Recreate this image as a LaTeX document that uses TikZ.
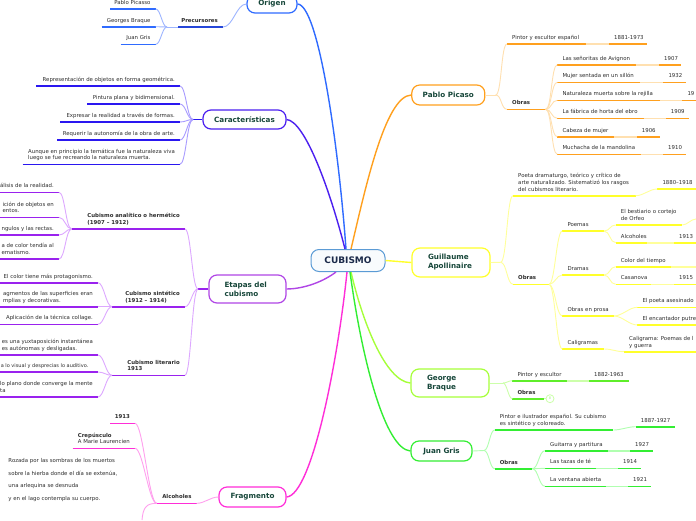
\documentclass[tikz,border=0pt]{standalone}
\usepackage{fontspec}
\setmainfont{DejaVu Sans}
\usetikzlibrary{calc}
\definecolor{cBlue}{HTML}{2F6BFF}
\definecolor{cBlueD}{HTML}{2546D8}
\definecolor{cBlueL}{HTML}{9DB5FF}
\definecolor{cInd}{HTML}{4B1FF0}
\definecolor{cIndD}{HTML}{2A17F0}
\definecolor{cIndL}{HTML}{A99CFF}
\definecolor{cVio}{HTML}{B046E6}
\definecolor{cVioD}{HTML}{9A22EE}
\definecolor{cVioL}{HTML}{DDA8FF}
\definecolor{cMag}{HTML}{FF2ED8}
\definecolor{cMagL}{HTML}{FF9FEE}
\definecolor{cOra}{HTML}{FFA01E}
\definecolor{cOraL}{HTML}{FFE0B0}
\definecolor{cYel}{HTML}{FFFF2A}
\definecolor{cYelL}{HTML}{FFFF9A}
\definecolor{cLim}{HTML}{A6FF3A}
\definecolor{cLimD}{HTML}{5FEE2A}
\definecolor{cLimL}{HTML}{CCFFAA}
\definecolor{cGrn}{HTML}{33EE33}
\definecolor{cGrnL}{HTML}{B0FFB0}
\definecolor{cCen}{HTML}{5B9BD5}
\definecolor{cTxt}{HTML}{2E2E2E}
\definecolor{cHead}{HTML}{17473A}
\definecolor{cNavy}{HTML}{1B2A4A}
\tikzset{
  leaf/.style={inner sep=0pt, font=\fontsize{5.4}{6.6}\selectfont, text=cTxt, align=left, text depth=1.2pt},
  uline/.style={line width=1.6pt},
  conn/.style={line width=0.9pt},
  mainc/.style={line width=1.4pt},
  mbox/.style={draw, line width=1.2pt, rounded corners=8pt, fill=white,
    font=\fontsize{7.2}{9}\selectfont\bfseries, text=cHead, inner sep=0pt, align=center},
}
\newcommand\leafR[6]{%
  \coordinate (#1-a) at (#2,#4);
  \coordinate (#1-b) at (#3,#4);
  \draw[uline,#5] (#1-a) -- (#1-b);
  \node[leaf,anchor=south west] (#1) at ([shift={(5,-3.2)}]#1-a) {#6};%
}
\newcommand\leafL[6]{%
  \coordinate (#1-a) at (#2,#4);
  \coordinate (#1-b) at (#3,#4);
  \draw[uline,#5] (#1-a) -- (#1-b);
  \node[leaf,anchor=south east] (#1) at ([shift={(-5,-3.2)}]#1-b) {#6};%
}
\newcommand\conR[4][6pt]{\draw[conn,#4] (#2) to[out=0,in=180,out distance=#1,in distance=#1] (#3);}
\newcommand\conL[4][6pt]{\draw[conn,#4] (#2) to[out=180,in=0,out distance=#1,in distance=#1] (#3);}
\begin{document}
\begin{tikzpicture}[x=1pt,y=-1pt]
\useasboundingbox (0,0) rectangle (696,520);
\clip (0,0) rectangle (696,520);
\fill[white] (0,0) rectangle (696,520);

% ---------- main nodes ----------
\node[mbox, draw=cCen, line width=1pt, fill=cCen!4, minimum width=74pt, minimum height=22pt,
  font=\fontsize{9}{10}\selectfont\bfseries, text=cNavy] (cub) at (348,260.5) {CUBISMO};
\node[mbox, draw=cBlue, minimum width=50pt, minimum height=18pt] (origen) at (272,4) {Origen};
\node[mbox, draw=cInd, minimum width=83pt, minimum height=19pt] (carac) at (244.5,119.5) {Características};
\node[mbox, draw=cVio, minimum width=77pt, minimum height=28pt, text width=46pt, align=left] (etapas) at (247.5,289) {Etapas del\\cubismo};
\node[mbox, draw=cMag, minimum width=67pt, minimum height=20pt] (frag) at (252.5,497) {Fragmento};
\node[mbox, draw=cOra, minimum width=73pt, minimum height=20pt] (pic) at (448.3,95) {Pablo Picaso};
\node[mbox, draw=cYel, minimum width=78pt, minimum height=29pt, text width=46pt, align=left] (apoll) at (451,262.5) {Guillaume\\Apollinaire};
\node[mbox, draw=cLim, minimum width=78pt, minimum height=28pt, text width=46pt, align=left] (braque) at (450,383) {George\\Braque};
\node[mbox, draw=cGrn, minimum width=61pt, minimum height=20pt] (gris) at (441.5,451) {Juan Gris};

% ---------- main connectors ----------
\draw[mainc,cBlue] ([xshift=-2pt]cub.north) .. controls (338,140) and (318,5) .. (origen.east);
\draw[mainc,cInd] ([xshift=-3pt]cub.north) .. controls (330,190) and (305,121) .. (carac.east);
\draw[mainc,cOra] ([xshift=3pt]cub.north) .. controls (365,190) and (385,96) .. (pic.west);
\draw[mainc,cVio] ([xshift=-12pt]cub.south) .. controls (320,284) and (300,289) .. (etapas.east);
\draw[mainc,cMag] ([xshift=-1pt]cub.south) .. controls (338,360) and (312,495) .. (frag.east);
\draw[mainc,cYel] (cub.east) -- (apoll.west);
\draw[mainc,cLim] ([xshift=3pt]cub.south) .. controls (362,320) and (385,381) .. (braque.west);
\draw[mainc,cGrn] ([xshift=2pt]cub.south) .. controls (362,360) and (385,449) .. (gris.west);

% ---------- Origen ----------
\leafL{prec}{178}{223}{27}{cBlueD}{\textbf{Precursores}}
\leafL{pp}{110}{155.7}{9}{cBlue}{Pablo Picasso}
\leafL{gb}{101.7}{155.7}{26.7}{cBlue}{Georges Braque}
\leafL{jg}{120.7}{155.7}{44.3}{cBlue}{Juan Gris}
\conL[10pt]{origen.west}{prec-b}{cBlueL}
\coordinate (prech) at (167,27);
\draw[conn,cBlueL] (prec-a) -- (prech);
\conL[5pt]{prech}{pp-b}{cBlueL}
\conL[5pt]{prech}{gb-b}{cBlueL}
\conL[5pt]{prech}{jg-b}{cBlueL}

% ---------- Caracteristicas ----------
\coordinate (carh) at (193,119.5);
\draw[uline,cIndD] (carac.west) -- (carh);
\leafL{c1}{36}{180}{86}{cIndD}{Representación de objetos en forma geométrica.}
\leafL{c2}{87}{180}{104}{cIndD}{Pintura plana y bidimensional.}
\leafL{c3}{60}{180}{122}{cIndD}{Expresar la realidad a través de formas.}
\leafL{c4}{57}{180}{140}{cIndD}{Requerir la autonomía de la obra de arte.}
\leafL{c5}{22.7}{180}{164.3}{cIndD}{Aunque en principio la temática fue la naturaleza viva\\luego se fue recreando la naturaleza muerta.}
\conL{carh}{c1-b}{cIndL}
\conL{carh}{c2-b}{cIndL}
\conL{carh}{c3-b}{cIndL}
\conL{carh}{c4-b}{cIndL}
\conL{carh}{c5-b}{cIndL}

% ---------- Etapas ----------
\coordinate (eth) at (198,289);
\draw[uline,cVioD] (etapas.west) -- (eth);
\leafL{ana}{71.7}{185}{229}{cVioD}{\textbf{Cubismo analítico o hermético}\\\textbf{(1907 – 1912)}}
\leafL{sin}{112}{185}{306.7}{cVioD}{\textbf{Cubismo sintético}\\\textbf{(1912 – 1914)}}
\leafL{lit}{112}{185}{375.3}{cVioD}{\textbf{Cubismo literario}\\\textbf{1913}}
\conL{eth}{ana-b}{cVioL}
\conL{eth}{sin-b}{cVioL}
\conL{eth}{lit-b}{cVioL}
% analitico
\leafL{a1}{0}{59}{192.3}{cVioD}{álisis de la realidad.}
\leafL{a2}{0}{59}{217.3}{cVioD}{ición de objetos en\\entos.}
\leafL{a3}{0}{59}{235}{cVioD}{ngulos y las rectas.}
\leafL{a4}{0}{59}{259}{cVioD}{a de color tendía al\\ematismo.}
\conL{ana-a}{a1-b}{cVioL}
\conL{ana-a}{a2-b}{cVioL}
\conL{ana-a}{a3-b}{cVioL}
\conL{ana-a}{a4-b}{cVioL}
% sintetico
\leafL{s1}{0}{98}{282.7}{cVioD}{El color tiene más protagonismo.}
\leafL{s2}{0}{98}{306.7}{cVioD}{agmentos de las superficies eran\\mplias y decorativas.}
\leafL{s3}{0}{98}{324.3}{cVioD}{Aplicación de la técnica collage.}
\conL{sin-a}{s1-b}{cVioL}
\conL{sin-a}{s2-b}{cVioL}
\conL{sin-a}{s3-b}{cVioL}
% literario
\leafL{l1}{0}{98}{355}{cVioD}{es una yuxtaposición instantánea\\es autónomas y desligadas.}
\coordinate (l2-a) at (0,372);
\coordinate (l2-b) at (98,372);
\draw[uline,cVioD] (l2-a) -- (l2-b);
\node[leaf, anchor=south west, font=\fontsize{5.0}{6.6}\selectfont] (l2) at ([shift={(0.6,-3.2)}]l2-a) {a lo visual y desprecias lo auditivo.};
\leafL{l3}{0}{98}{397}{cVioD}{lo plano donde converge la mente\\ta}
\conL{lit-a}{l1-b}{cVioL}
\conL{lit-a}{l2-b}{cVioL}
\conL{lit-a}{l3-b}{cVioL}

% ---------- Fragmento ----------
\leafL{alc}{156.7}{196.7}{503.3}{cMag}{\textbf{Alcoholes}}
\conL[8pt]{frag.west}{alc-b}{cMagL}
\leafL{y13}{110}{135}{423.3}{cMag}{\textbf{1913}}
\leafL{crep}{72.7}{135}{448.3}{cMag}{\textbf{Crepúsculo}\\A Marie Laurencien}
\conL[8pt]{alc-a}{y13-b}{cMagL}
\conL[8pt]{alc-a}{crep-b}{cMagL}
\coordinate (fragdown) at (142,520);
\draw[conn,cMagL] (alc-a) .. controls (146,503.3) and (143,508) .. (fragdown);
\node[leaf, anchor=north west, font=\fontsize{5.4}{12.7}\selectfont] (poem) at (8.3,458.1)
  {Rozada por las sombras de los muertos\\sobre la hierba donde el día se extenúa,\\una arlequina se desnuda\\y en el lago contempla su cuerpo.};

% ---------- Pablo Picaso ----------
\coordinate (pich) at (495.7,95);
\draw[conn,cOraL] (pic.east) -- (pich);
\leafR{pps}{507}{585.7}{44}{cOra}{Pintor y escultor español}
\leafR{ppd}{609}{647}{44}{cOra}{1881-1973}
\leafR{pob}{507}{545.7}{109.3}{cOra}{\textbf{Obras}}
\conR{pich}{pps-a}{cOraL}
\conR{pich}{pob-a}{cOraL}
\draw[uline,cOraL] (pps-b) -- (ppd-a);
\leafR{w1}{557.3}{635.7}{64.7}{cOra}{Las señoritas de Avignon}
\leafR{w1d}{659}{681.3}{64.7}{cOra}{1907}
\leafR{w2}{557.3}{640}{82.3}{cOra}{Mujer sentada en un sillón}
\leafR{w2d}{663.3}{685.7}{82.3}{cOra}{1932}
\leafR{w3}{557.3}{660}{100.3}{cOra}{Naturaleza muerta sobre la rejilla}
\leafR{w3d}{682.3}{696}{100.3}{cOra}{19}
\leafR{w4}{557.3}{644}{118.3}{cOra}{La fábrica de horta del ebro}
\leafR{w4d}{665.7}{689.3}{118.3}{cOra}{1909}
\leafR{w5}{557.3}{614}{136.7}{cOra}{Cabeza de mujer}
\leafR{w5d}{636.7}{659.7}{136.7}{cOra}{1906}
\leafR{w6}{557.3}{640.7}{154.3}{cOra}{Muchacha de la mandolina}
\leafR{w6d}{663}{686}{154.3}{cOra}{1910}
\foreach \w in {w1,w2,w3,w4,w5,w6}{
  \conR{pob-b}{\w-a}{cOraL}
  \draw[uline,cOraL] (\w-b) -- (\w d-a);
}

% ---------- Apollinaire ----------
\coordinate (aph) at (500.7,262.3);
\draw[conn,cYelL] (apoll.east) -- (aph);
\leafR{apd}{513}{635.7}{195.7}{cYel}{Poeta dramaturgo, teórico y crítico de\\arte naturalizado. Sistematizó los rasgos\\del cubismos literario.}
\leafR{apdd}{657.3}{696}{189}{cYel}{1880–1918}
\leafR{apo}{513}{549}{284.3}{cYel}{\textbf{Obras}}
\conR{aph}{apd-a}{cYelL}
\conR{aph}{apo-a}{cYelL}
\conR[8pt]{apd-b}{apdd-a}{cYelL}
\leafR{poem2}{562.3}{604}{231}{cYel}{Poemas}
\leafR{dram}{562.3}{604}{275}{cYel}{Dramas}
\leafR{pros}{562.3}{614}{316}{cYel}{Obras en prosa}
\leafR{calg}{562.3}{604}{349}{cYel}{Caligramas}
\conR{apo-b}{poem2-a}{cYelL}
\conR{apo-b}{dram-a}{cYelL}
\conR{apo-b}{pros-a}{cYelL}
\conR{apo-b}{calg-a}{cYelL}
\leafR{bes}{615.7}{682.3}{225}{cYel}{El bestiario o cortejo\\de Orfeo}
\leafR{alc2}{615.7}{647.3}{242.7}{cYel}{Alcoholes}
\leafR{alc2d}{674}{696}{242.7}{cYel}{1913}
\conR{poem2-b}{bes-a}{cYelL}
\conR{poem2-b}{alc2-a}{cYelL}
\draw[uline,cYelL] (alc2-b) -- (alc2d-a);
\coordinate (besx) at (696,219);
\conR[5pt]{bes-b}{besx}{cYelL}
\leafR{col}{615.7}{670.7}{266.7}{cYel}{Color del tiempo}
\leafR{cas}{615.7}{650.7}{284.3}{cYel}{Casanova}
\leafR{casd}{674}{696}{284.3}{cYel}{1915}
\conR{dram-b}{col-a}{cYelL}
\conR{dram-b}{cas-a}{cYelL}
\coordinate (colx) at (696,266.7);
\draw[uline,cYelL] (col-b) -- (colx);
\draw[uline,cYelL] (cas-b) -- (casd-a);
\leafR{poe}{637.3}{696}{307.3}{cYel}{El poeta asesinado}
\leafR{enc}{637.3}{696}{325}{cYel}{El encantador putre}
\conR[8pt]{pros-b}{poe-a}{cYelL}
\conR[8pt]{pros-b}{enc-a}{cYelL}
\leafR{cal}{624}{696}{351.7}{cYel}{Caligrama: Poemas de l\\y guerra}
\conR[8pt]{calg-b}{cal-a}{cYelL}

% ---------- Braque ----------
\coordinate (brh) at (503,383);
\draw[conn,cLimL] (braque.east) -- (brh);
\leafR{bps}{512.3}{566.7}{380.7}{cLimD}{Pintor y escultor}
\leafR{bpd}{589}{629}{380.7}{cLimD}{1882-1963}
\leafR{bob}{512.3}{544}{398.7}{cLimD}{\textbf{Obras}}
\conR[4pt]{brh}{bps-a}{cLimL}
\conR[4pt]{brh}{bob-a}{cLimL}
\draw[uline,cLimL] (bps-b) -- (bpd-a);
\node[circle, draw=cLimL, line width=0.8pt, minimum size=8pt, inner sep=0pt,
  font=\fontsize{3.5}{4}\selectfont, text=cLimD!60] (brc) at (550,398.7) {8};
\draw[conn,cLimL] (bob-b) -- (brc.west);

% ---------- Juan Gris ----------
\coordinate (grh) at (484,450.5);
\draw[conn,cGrnL] (gris.east) -- (grh);
\leafR{gd}{494.7}{613.3}{430}{cGrn}{Pintor e ilustrador español. Su cubismo\\es sintético y coloreado.}
\leafR{gdd}{635.7}{674.7}{426.7}{cGrn}{1887-1927}
\leafR{gob}{494.7}{532.3}{468.7}{cGrn}{\textbf{Obras}}
\conR[5pt]{grh}{gd-a}{cGrnL}
\conR[5pt]{grh}{gob-a}{cGrnL}
\conR[8pt]{gd-b}{gdd-a}{cGrnL}
\leafR{g1}{545}{608}{450.7}{cGrn}{Guitarra y partitura}
\leafR{g1d}{630}{653.3}{450.7}{cGrn}{1927}
\leafR{g2}{545}{595.7}{468.3}{cGrn}{Las tazas de té}
\leafR{g2d}{618}{641.3}{468.3}{cGrn}{1914}
\leafR{g3}{545}{605.7}{486.3}{cGrn}{La ventana abierta}
\leafR{g3d}{628}{651.3}{486.3}{cGrn}{1921}
\foreach \g in {g1,g2,g3}{
  \conR{gob-b}{\g-a}{cGrnL}
  \draw[uline,cGrnL] (\g-b) -- (\g d-a);
}
\end{tikzpicture}
\end{document}
